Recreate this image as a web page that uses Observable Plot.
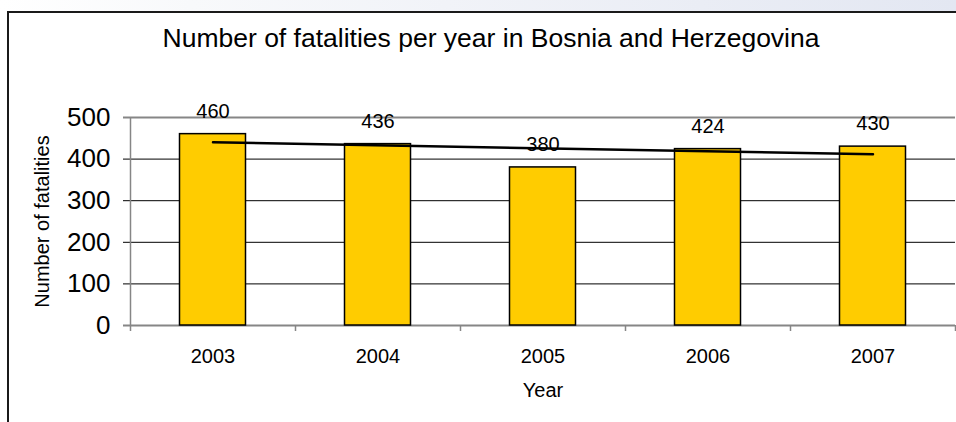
<!DOCTYPE html>
<html>
<head>
<meta charset="utf-8">
<script src="https://cdn.jsdelivr.net/npm/d3@7"></script>
<script src="https://cdn.jsdelivr.net/npm/@observablehq/plot@0.6"></script>
<style>
  html, body { margin: 0; padding: 0; }
  body {
    width: 956px; height: 422px; overflow: hidden; position: relative;
    background: linear-gradient(to right, #ffffff 0%, #f8f9fb 20%, #e3e7f2 100%);
    font-family: Arial, "Liberation Sans", sans-serif;
  }
  #frame {
    position: absolute; left: 7px; top: 11px; width: 980px; height: 440px;
    border-left: 2px solid #1a1a1a; border-top: 2px solid #1a1a1a; background: #fff;
  }
  #title {
    position: absolute; left: 491px; top: 24.5px; transform: translateX(-50%);
    white-space: nowrap; font-size: 26.5px; line-height: 1; color: #000;
  }
  #chart { position: absolute; left: 9px; top: 72px; }
</style>
</head>
<body>
<div id="frame"></div>
<div id="title">Number of fatalities per year in Bosnia and Herzegovina</div>
<div id="chart"></div>
<script>
// Data
const years = [2003, 2004, 2005, 2006, 2007];
const fatalities = [460, 436, 380, 424, 430];
const yTicks = [0, 100, 200, 300, 400, 500];
const yTitle = "Number of fatalities";
const xTitle = "Year";

const rows = years.map((year, i) => ({year, value: fatalities[i]}));
const boundaries = years.map(y => y - 0.5).concat([years[years.length - 1] + 0.5]);
const barHalf = 0.2;
const innerGrid = yTicks.slice(1, -1);
const edgeLines = [yTicks[0], yTicks[yTicks.length - 1]];

const gray = "#868686";

const chart = Plot.plot({
  width: 947,
  height: 350,
  marginLeft: 121,
  marginRight: 1,
  marginTop: 45,
  marginBottom: 97,
  style: {background: "transparent", fontFamily: "Arial, 'Liberation Sans', sans-serif", color: "#000"},
  x: {domain: [boundaries[0], boundaries[boundaries.length - 1]], axis: null},
  y: {domain: [yTicks[0], yTicks[yTicks.length - 1]], axis: null},
  marks: [
    Plot.ruleY(innerGrid, {stroke: "#000", strokeWidth: 1, insetLeft: -7}),
    Plot.ruleY(edgeLines, {stroke: gray, strokeWidth: 2, insetLeft: -7}),
    Plot.ruleX([boundaries[0]], {y1: yTicks[0], y2: yTicks[yTicks.length - 1], stroke: gray, strokeWidth: 1.5}),
    Plot.axisX({ticks: boundaries, tickSize: 6, tickFormat: () => "", stroke: gray, strokeWidth: 1.5, label: null}),
    Plot.axisX({ticks: years, tickSize: 0, tickPadding: 23, tickFormat: d => String(d), fontSize: 20, label: null}),
    Plot.axisY({ticks: yTicks, tickSize: 0, tickPadding: 20, fontSize: 26, label: null}),
    Plot.rectY(rows, {x1: d => d.year - barHalf, x2: d => d.year + barHalf, y: "value", fill: "#FFCC00", stroke: "#000", strokeWidth: 1.5}),
    Plot.text(rows, {x: "year", y: "value", text: d => String(d.value), dy: -23, fontSize: 20, fill: "#000"}),
    Plot.linearRegressionY(rows, {x: "year", y: "value", ci: 0, stroke: "#000", strokeWidth: 2.5}),
    Plot.text([yTitle], {frameAnchor: "left", textAnchor: "middle", rotate: -90, dx: -87.5, fontSize: 20, fill: "#000"}),
    Plot.text([xTitle], {frameAnchor: "bottom", dy: 71, fontSize: 20, fill: "#000"})
  ]
});
document.getElementById("chart").appendChild(chart);
</script>
</body>
</html>
